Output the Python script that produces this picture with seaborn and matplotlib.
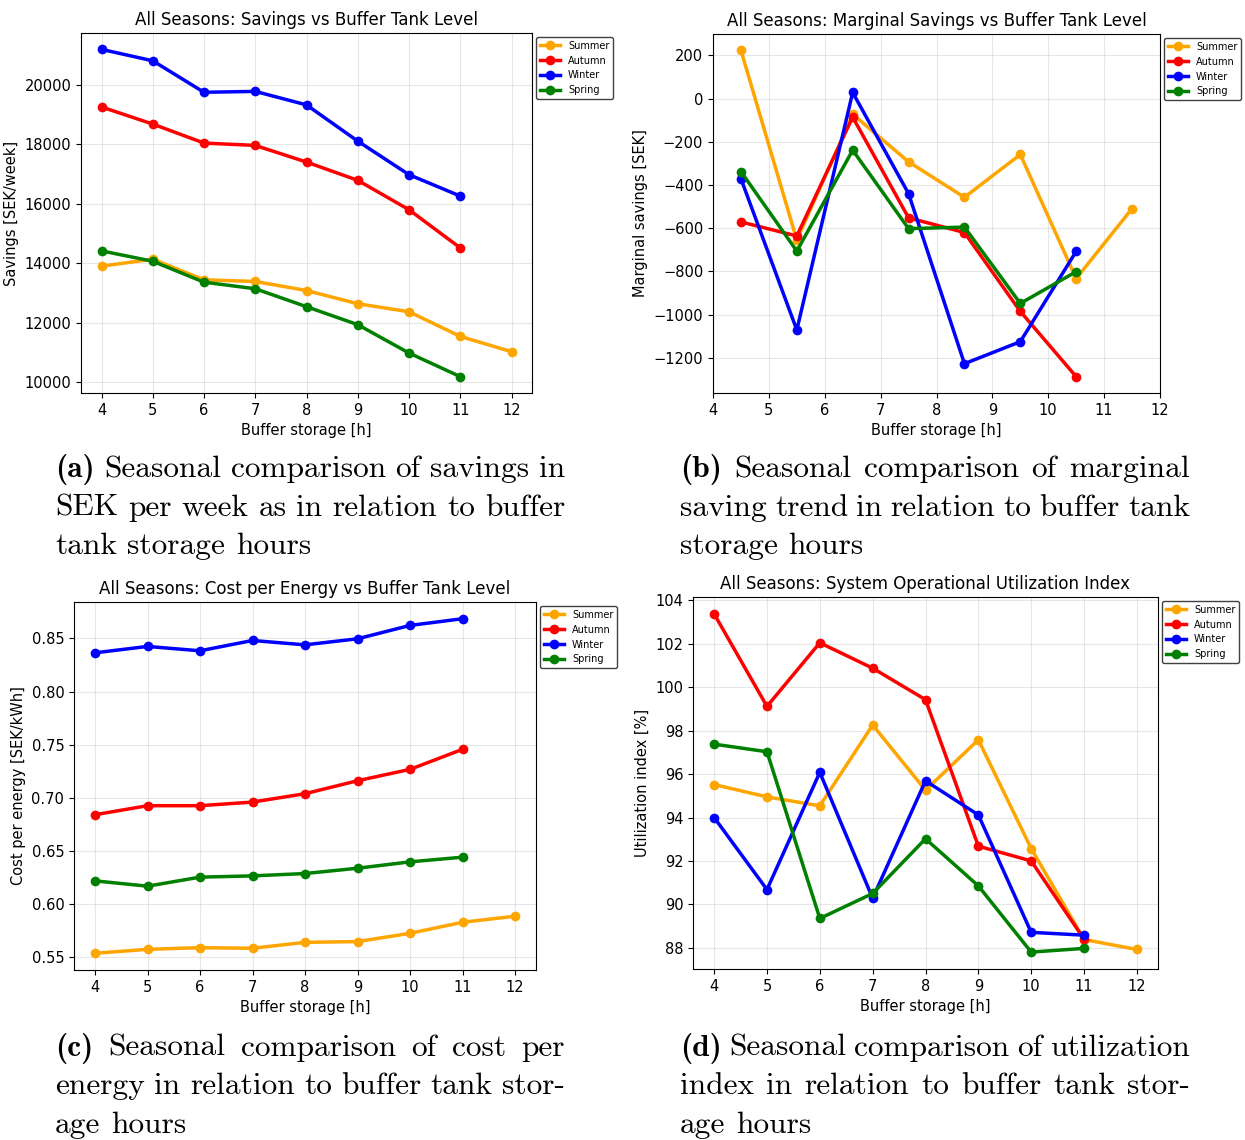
import matplotlib
matplotlib.use("Agg")
import matplotlib.pyplot as plt
import pandas as pd
import seaborn as sns

# x values
hours = [4, 5, 6, 7, 8, 9, 10, 11, 12]
mid_hours = [4.5, 5.5, 6.5, 7.5, 8.5, 9.5, 10.5, 11.5]
seasons = ["Summer", "Autumn", "Winter", "Spring"]
season_colors = {"Summer": "orange", "Autumn": "red", "Winter": "blue", "Spring": "green"}

# (a) savings [SEK/week]
savings = {
    "Summer": [13900, 14135, 13440, 13385, 13080, 12635, 12365, 11535, 11020],
    "Autumn": [19260, 18685, 18045, 17965, 17405, 16790, 15800, 14515],
    "Winter": [21200, 20815, 19755, 19785, 19330, 18110, 16980, 16260],
    "Spring": [14415, 14065, 13360, 13140, 12535, 11930, 10975, 10180],
}

# (b) marginal savings [SEK]
marginal = {
    "Summer": [223, -655, -73, -293, -457, -259, -833, -509],
    "Autumn": [-571, -636, -86, -552, -620, -985, -1287],
    "Winter": [-371, -1071, 28, -440, -1227, -1125, -707],
    "Spring": [-338, -706, -239, -602, -595, -948, -801],
}

# (c) cost per energy [SEK/kWh]
cost = {
    "Summer": [0.5535, 0.5572, 0.5588, 0.5582, 0.5638, 0.5645, 0.5723, 0.5827, 0.5884],
    "Autumn": [0.6840, 0.6925, 0.6925, 0.6959, 0.7038, 0.7160, 0.7267, 0.7456],
    "Winter": [0.8365, 0.8425, 0.8384, 0.8481, 0.8440, 0.8497, 0.8623, 0.8686],
    "Spring": [0.6217, 0.6167, 0.6252, 0.6264, 0.6286, 0.6336, 0.6396, 0.6440],
}

# (d) utilization index [%]
utilization = {
    "Summer": [95.52, 94.95, 94.54, 98.26, 95.26, 97.58, 92.57, 88.38, 87.92],
    "Autumn": [103.38, 99.12, 102.05, 100.88, 99.43, 92.68, 92.00, 88.40],
    "Winter": [94.00, 90.68, 96.08, 90.28, 95.69, 94.12, 88.71, 88.58],
    "Spring": [97.38, 97.03, 89.35, 90.50, 93.02, 90.85, 87.80, 87.97],
}

captions = {
    "a": ["Seasonal comparison of savings in",
          "SEK per week as in relation to buffer",
          "tank storage hours"],
    "b": ["Seasonal comparison of marginal",
          "saving trend in relation to buffer tank",
          "storage hours"],
    "c": ["Seasonal comparison of cost per",
          "energy in relation to buffer tank stor-",
          "age hours"],
    "d": ["Seasonal comparison of utilization",
          "index in relation to buffer tank stor-",
          "age hours"],
}

W, H = 1245, 1140
plt.rcParams["font.size"] = 10.5


def to_long(x, series):
    rows = []
    for season in seasons:
        for xv, yv in zip(x, series[season]):
            rows.append({"x": xv, "y": yv, "season": season})
    return pd.DataFrame(rows)


def px_axes(fig, left, top, right, bottom):
    return fig.add_axes([left / W, 1 - bottom / H, (right - left) / W, (bottom - top) / H])


def draw_panel(ax, df, title, ylabel):
    sns.lineplot(data=df, x="x", y="y", hue="season", hue_order=seasons,
                 palette=season_colors, marker="o", markersize=7,
                 markeredgewidth=0, linewidth=2.5, errorbar=None, ax=ax)
    ax.set_title(title, fontsize=12)
    ax.set_xlabel("Buffer storage [h]", fontsize=10.5)
    ax.set_ylabel(ylabel, fontsize=10.5)
    ax.set_xticks(hours)
    ax.tick_params(labelsize=10.5)
    ax.grid(True, alpha=0.3)
    handles, labels = ax.get_legend_handles_labels()
    ax.legend(handles, labels, loc="upper left", bbox_to_anchor=(1, 1),
              fontsize=7, handlelength=2.1, borderaxespad=0.4,
              edgecolor="0.25", framealpha=1)


def caption(fig, renderer, x0, x1, baselines, tag, lines, size=22.6):
    # justified caption lines, last line left aligned
    for i, line in enumerate(lines):
        words = [(w, "cmr10") for w in line.split()]
        if i == 0:
            words = [("(" + tag + ")", "cmb10")] + words
        texts = []
        for w, fam in words:
            t = fig.text(0, 0, w, fontsize=size, family=fam, va="baseline")
            texts.append(t)
        widths = [t.get_window_extent(renderer).width for t in texts]
        if i < len(lines) - 1:
            gap = (x1 - x0 - sum(widths)) / (len(texts) - 1)
        else:
            gap = size * 100 / 72 * 0.333
        x = x0
        for t, wd in zip(texts, widths):
            t.set_position((x / W, 1 - baselines[i] / H))
            x += wd + gap


fig = plt.figure(figsize=(W / 100, H / 100), dpi=100)

ax_a = px_axes(fig, 81, 33, 532, 393)
draw_panel(ax_a, to_long(hours, savings),
           "All Seasons: Savings vs Buffer Tank Level", "Savings [SEK/week]")

ax_b = px_axes(fig, 713, 34, 1160, 393)
draw_panel(ax_b, to_long(mid_hours, marginal),
           "All Seasons: Marginal Savings vs Buffer Tank Level", "Marginal savings [SEK]")
ax_b.set_xlim(4, 12)

ax_c = px_axes(fig, 74, 602, 536, 970)
draw_panel(ax_c, to_long(hours, cost),
           "All Seasons: Cost per Energy vs Buffer Tank Level", "Cost per energy [SEK/kWh]")

ax_d = px_axes(fig, 693, 597, 1158, 969)
draw_panel(ax_d, to_long(hours, utilization),
           "All Seasons: System Operational Utilization Index", "Utilization index [%]")

renderer = fig.canvas.get_renderer()
caption(fig, renderer, 55, 565, [477, 515.5, 554], "a", captions["a"])
caption(fig, renderer, 680, 1190, [477, 515.5, 554], "b", captions["b"])
caption(fig, renderer, 55, 565, [1056, 1094.5, 1133], "c", captions["c"])
caption(fig, renderer, 680, 1190, [1056, 1094.5, 1133], "d", captions["d"])

fig.savefig("out.png", dpi=100)
